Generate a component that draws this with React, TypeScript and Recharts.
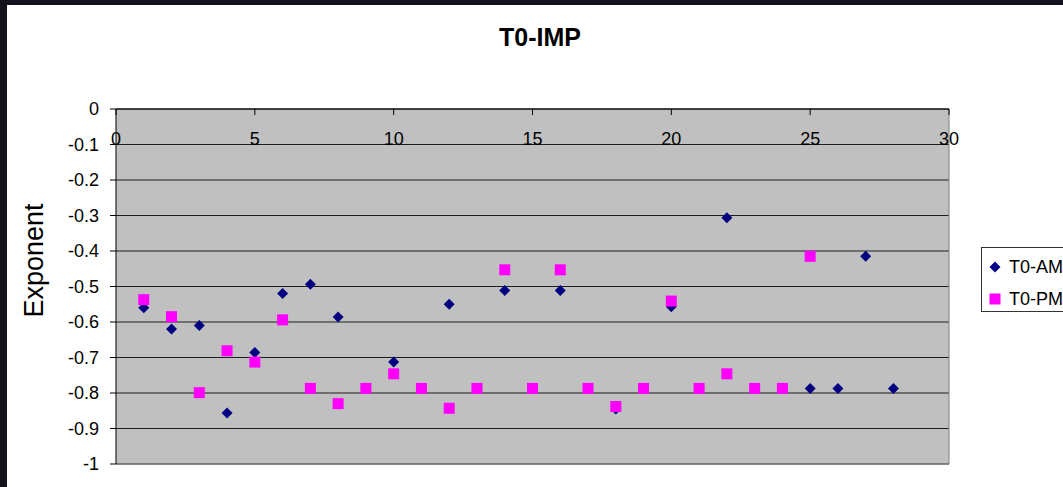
import React from "react"
import { CartesianGrid, Legend, ReferenceLine, Scatter, ScatterChart, XAxis, YAxis } from "recharts"

// T0-IMP: exponent per sample, morning vs afternoon runs
const FONT = "'Liberation Sans', Arial, sans-serif"

const amX = [1, 2, 3, 4, 5, 6, 7, 8, 9, 10, 11, 12, 13, 14, 15, 16, 17, 18, 19, 20, 21, 22, 23, 24, 25, 26, 27, 28]
const amY = [
  -0.56, -0.62, -0.61, -0.856, -0.686, -0.52, -0.494, -0.586, -0.787, -0.713, -0.787, -0.55, -0.787, -0.511,
  -0.787, -0.511, -0.787, -0.845, -0.787, -0.557, -0.787, -0.306, -0.787, -0.787, -0.787, -0.787, -0.415, -0.787,
]

const pmX = [1, 2, 3, 4, 5, 6, 7, 8, 9, 10, 11, 12, 13, 14, 15, 16, 17, 18, 19, 20, 21, 22, 23, 24, 25]
const pmY = [
  -0.537, -0.585, -0.799, -0.681, -0.713, -0.594, -0.787, -0.83, -0.787, -0.746, -0.787, -0.843, -0.787, -0.453,
  -0.787, -0.453, -0.787, -0.838, -0.787, -0.541, -0.787, -0.746, -0.787, -0.787, -0.415,
]

const xTicks = [0, 5, 10, 15, 20, 25, 30]
const yTicks = [0, -0.1, -0.2, -0.3, -0.4, -0.5, -0.6, -0.7, -0.8, -0.9, -1]

const AM_COLOR = "#000080"
const PM_COLOR = "#ff00ff"

const amData = amX.map((x, i) => ({ x, y: amY[i] }))
const pmData = pmX.map((x, i) => ({ x, y: pmY[i] }))

function Diamond({ cx, cy, fill }: any) {
  const r = 5.5
  return <polygon points={`${cx},${cy - r} ${cx + r},${cy} ${cx},${cy + r} ${cx - r},${cy}`} fill={fill} />
}

function Square({ cx, cy, fill }: any) {
  const s = 11
  return <rect x={cx - s / 2} y={cy - s / 2} width={s} height={s} fill={fill} />
}

function LegendBox({ payload }: any) {
  return (
    <div
      style={{
        width: 95,
        height: 65,
        border: "1px solid #333",
        background: "#fff",
        boxSizing: "border-box",
        fontFamily: FONT,
        fontSize: 18,
        color: "#000",
        position: "relative",
      }}
    >
      {(payload || []).map((entry: any, i: number) => (
        <div key={entry.value} style={{ position: "absolute", left: 0, top: 6 + i * 32, height: 26, display: "flex", alignItems: "center" }}>
          <svg width={26} height={26} style={{ display: "block" }}>
            {i === 0 ? <Diamond cx={13} cy={13} fill={entry.color} /> : <Square cx={13} cy={13} fill={entry.color} />}
          </svg>
          <span style={{ marginLeft: 1 }}>{entry.value}</span>
        </div>
      ))}
    </div>
  )
}

function ExponentLabel({ viewBox }: any) {
  const x = viewBox.x + 34
  const y = viewBox.y + viewBox.height / 2 - 26
  return (
    <text x={x} y={y} transform={`rotate(-90 ${x} ${y})`} textAnchor="middle" dominantBaseline="central" fontSize={27} fontFamily={FONT} fill="#000">
      Exponent
    </text>
  )
}

export default function App() {
  return (
    <div style={{ position: "absolute", left: 0, top: 0, width: 1063, height: 487, background: "#fff", overflow: "hidden" }}>
      <div
        style={{
          position: "absolute",
          left: 0,
          top: 25,
          width: 1080,
          textAlign: "center",
          fontFamily: FONT,
          fontWeight: "bold",
          fontSize: 25,
          lineHeight: "25px",
        }}
      >
        T0-IMP
      </div>
      <ScatterChart width={1063} height={487} margin={{ top: 109, right: 114, bottom: 23, left: 0 }}>
        <CartesianGrid vertical={false} fill="#c0c0c0" stroke="#1e1e1e" strokeOpacity={1} />
        <XAxis
          type="number"
          dataKey="x"
          orientation="top"
          mirror
          domain={[0, 30]}
          ticks={xTicks}
          interval={0}
          tickSize={6}
          tickMargin={17}
          axisLine={{ stroke: "#000" }}
          tickLine={{ stroke: "#000" }}
          tick={{ fill: "#000", fontSize: 18, fontFamily: FONT }}
        />
        <YAxis
          type="number"
          dataKey="y"
          domain={[-1, 0]}
          ticks={yTicks}
          interval={0}
          width={116}
          tickSize={6}
          tickMargin={11}
          axisLine={{ stroke: "#000" }}
          tickLine={{ stroke: "#000" }}
          tick={{ fill: "#000", fontSize: 18, fontFamily: FONT }}
          label={{ content: ExponentLabel }}
        />
        <ReferenceLine y={-1} stroke="#808080" />
        <ReferenceLine x={30} stroke="#808080" />
        <Scatter name="T0-AM" data={amData} fill={AM_COLOR} shape={Diamond} isAnimationActive={false} />
        <Scatter name="T0-PM" data={pmData} fill={PM_COLOR} shape={Square} isAnimationActive={false} />
        <Legend
          layout="vertical"
          align="center"
          verticalAlign="middle"
          content={LegendBox}
          wrapperStyle={{ left: 981, top: 247, width: 95, height: 65 }}
        />
      </ScatterChart>
      <div style={{ position: "absolute", left: 0, top: 0, width: 1063, height: 5, background: "#15111d" }} />
      <div style={{ position: "absolute", left: 0, top: 0, width: 7, height: 487, background: "#15111d" }} />
    </div>
  )
}
